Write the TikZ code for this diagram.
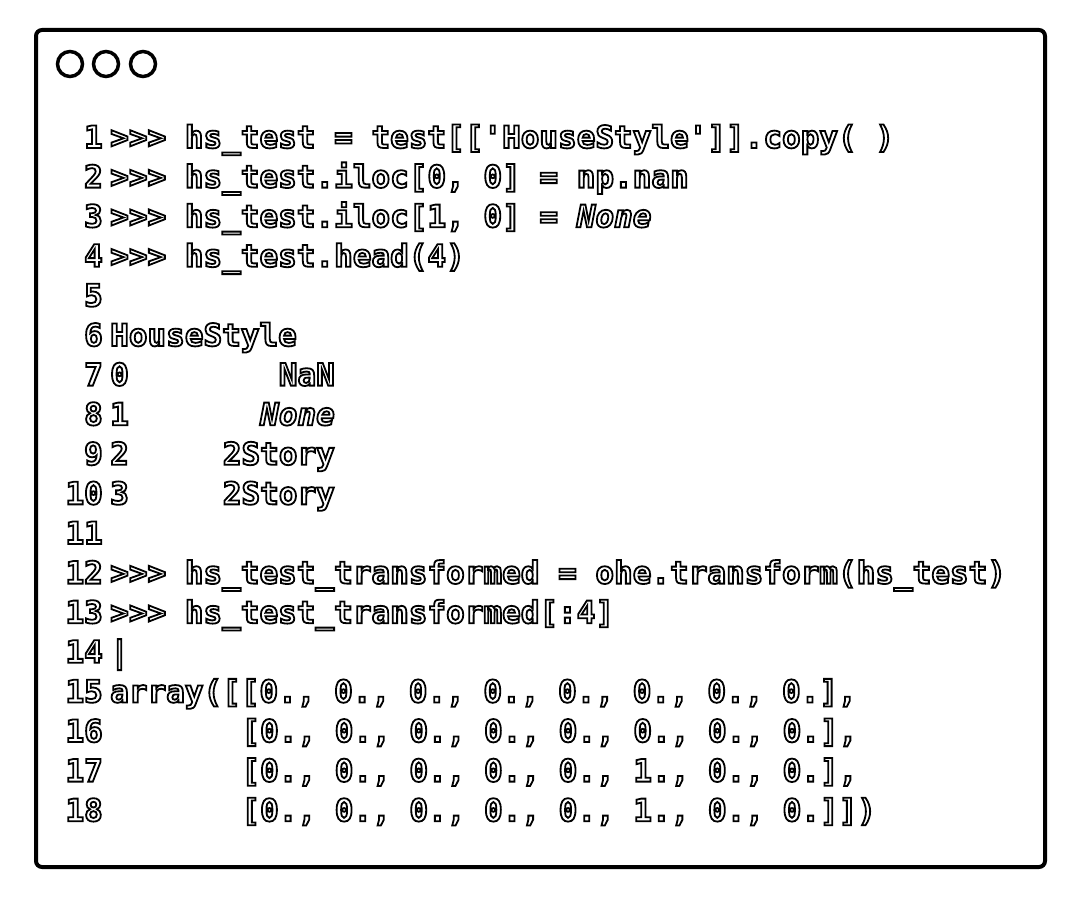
\documentclass[tikz,border=0pt]{standalone}
\usepackage{fontspec}
\newfontfamily\codefont{DejaVu Sans Mono Bold}[BoldFont=*, ItalicFont=DejaVu Sans Mono Bold Oblique]
% outlined glyphs: white fill, black stroke
\newcommand{\outl}[1]{\special{pdf:code 2 Tr 0 0 0 RG 1.8 w}#1}

\begin{document}
\begin{tikzpicture}[
    x=1pt, y=-1pt,
    code/.style={inner sep=0pt, anchor=base west, text=white, font=\codefont\fontsize{31}{31}\selectfont},
    coderight/.style={code, anchor=base east},
    lineno/.style={code, anchor=base east},
    frame/.style={draw=black, line width=4pt, rounded corners=6pt},
    winbutton/.style={draw=black, line width=3.5pt}
]
\useasboundingbox (0,0) rectangle (1080,899);

\draw[frame] (36,30) rectangle (1045,867);

% window buttons
\foreach \cx in {70,106,143}
    \draw[winbutton] (\cx,64) circle (12.5pt);

% line numbers
\foreach \n in {1,...,18}
    \node[lineno] (num-\n) at (103, {148+39.6*(\n-1)}) {\outl{\n}};

% input lines
\node[code] (L-1) at (110, 148.0) {\outl{>>> hs\_test = test[[\textquotesingle HouseStyle\textquotesingle]].copy( )}};
\node[code] (L-2) at (110, 187.6) {\outl{>>> hs\_test.iloc[0, 0] = np.nan}};
\node[code] (L-3) at (110, 227.2) {\outl{>>> hs\_test.iloc[1, 0] = {\itshape None}}};
\node[code] (L-4) at (110, 266.8) {\outl{>>> hs\_test.head(4)}};

% table
\node[code] (L-6) at (110, 346.0) {\outl{HouseStyle}};
\node[code] (idx-0) at (110, 385.6) {\outl{0}};
\node[code] (idx-1) at (110, 425.2) {\outl{1}};
\node[code] (idx-2) at (110, 464.8) {\outl{2}};
\node[code] (idx-3) at (110, 504.4) {\outl{3}};
\node[coderight] (val-0) at (335, 385.6) {\outl{NaN}};
\node[coderight] (val-1) at (335, 425.2) {\outl{\itshape None}};
\node[coderight] (val-2) at (335, 464.8) {\outl{2Story}};
\node[coderight] (val-3) at (335, 504.4) {\outl{2Story}};

% transform
\node[code] (L-12) at (110, 583.6) {\outl{>>> hs\_test\_transformed = ohe.transform(hs\_test)}};
\node[code] (L-13) at (110, 623.2) {\outl{>>> hs\_test\_transformed[:4]}};
\node[code] (cursor) at (110, 662.8) {\outl{|}};

% array output
\node[code] (L-15) at (110, 702.4) {\outl{array([[0., 0., 0., 0., 0., 0., 0., 0.],}};
\node[code] (L-16) at (241.25, 742.0) {\outl{[0., 0., 0., 0., 0., 0., 0., 0.],}};
\node[code] (L-17) at (241.25, 781.6) {\outl{[0., 0., 0., 0., 0., 1., 0., 0.],}};
\node[code] (L-18) at (241.25, 821.2) {\outl{[0., 0., 0., 0., 0., 1., 0., 0.]])}};

\end{tikzpicture}
\end{document}
